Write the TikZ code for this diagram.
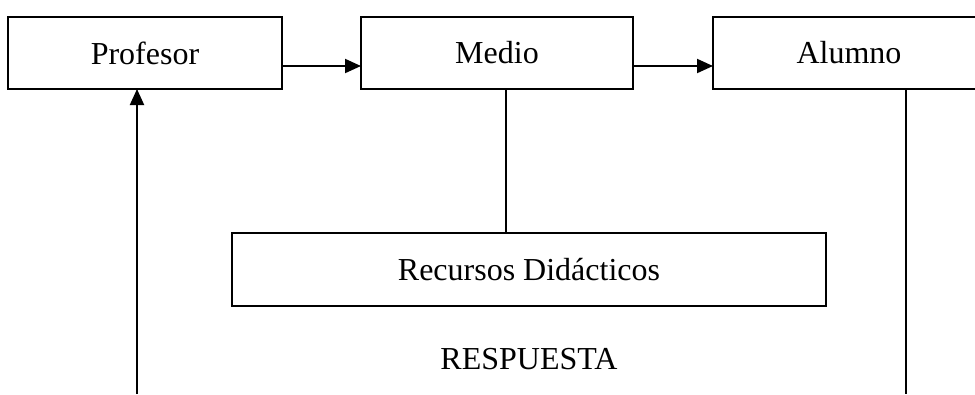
\documentclass[tikz,border=0pt]{standalone}
\usepackage{fontspec}
\setmainfont{Liberation Serif}
\usetikzlibrary{arrows.meta}
\begin{document}
\begin{tikzpicture}[x=0.75pt,y=-0.75pt,
  box/.style={draw,line width=1.5pt,rectangle,outer sep=0pt,inner sep=0pt,
    font=\fontsize{24}{28}\selectfont},
  conn/.style={line width=1.5pt},
  arr/.style={conn,-{Triangle[length=12pt,width=10.5pt]}},
  lbl/.style={font=\fontsize{24}{28}\selectfont,inner sep=0pt}]
\useasboundingbox (0,0) rectangle (975,394);
\clip (0,0) rectangle (975,394);
\node[box,minimum width=205.5pt,minimum height=54pt] (prof) at (145,53) {Profesor};
\node[box,minimum width=204pt,minimum height=54pt] (medio) at (497,53) {Medio};
\node[box,minimum width=204pt,minimum height=54pt] (alumno) at (849,53) {Alumno};
\node[box,minimum width=445.5pt,minimum height=54.75pt] (recursos) at (529,269.5) {Recursos Didácticos};
\node[lbl] (resp) at (529,359) {RESPUESTA};
\coordinate (pb) at (137,394);
\coordinate (ab) at (906,394);
\draw[arr] ([yshift=-9.75pt]prof.east) -- ([yshift=-9.75pt]medio.west);
\draw[arr] ([yshift=-9.75pt]medio.east) -- ([yshift=-9.75pt]alumno.west);
\draw[arr] (pb) -- (pb |- prof.south);
\draw[conn] ([xshift=6.75pt]medio.south) -- ([xshift=6.75pt]medio.south |- recursos.north);
\draw[conn] (ab |- alumno.south) -- (ab);
\end{tikzpicture}
\end{document}
